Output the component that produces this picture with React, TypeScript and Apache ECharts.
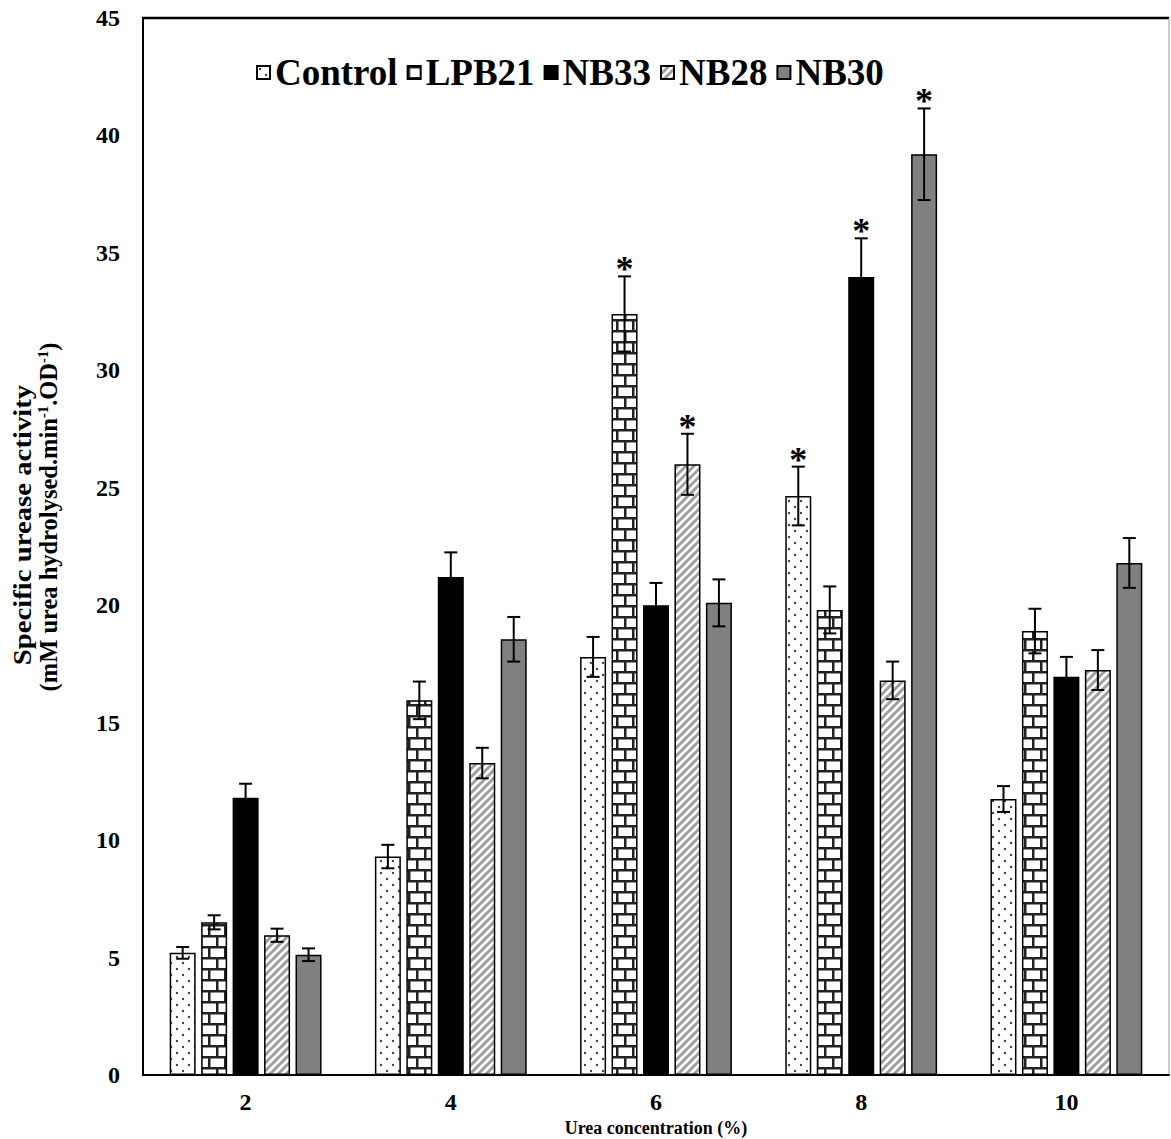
import React, { useEffect, useRef } from 'react';
import * as echarts from 'echarts';

const categories = ['2', '4', '6', '8', '10'];
const seriesNames = ['Control', 'LPB21', 'NB33', 'NB28', 'NB30'];

const controlValues = [5.2, 9.3, 17.8, 24.65, 11.75];
const controlErrors = [0.25, 0.5, 0.85, 1.25, 0.55];
const lpb21Values = [6.5, 15.95, 32.4, 19.8, 18.9];
const lpb21Errors = [0.3, 0.8, 1.6, 1.0, 0.95];
const nb33Values = [11.8, 21.2, 20.0, 33.97, 16.95];
const nb33Errors = [0.6, 1.05, 0.95, 1.65, 0.85];
const nb28Values = [5.95, 13.28, 26.0, 16.8, 17.24];
const nb28Errors = [0.28, 0.65, 1.3, 0.8, 0.85];
const nb30Values = [5.12, 18.55, 20.1, 39.2, 21.8];
const nb30Errors = [0.27, 0.95, 1.0, 1.95, 1.06];

// 1 = marked with an asterisk
const controlSig = [0, 0, 0, 1, 0];
const lpb21Sig = [0, 0, 1, 0, 0];
const nb33Sig = [0, 0, 0, 1, 0];
const nb28Sig = [0, 0, 1, 0, 0];
const nb30Sig = [0, 0, 0, 1, 0];

const yMin = 0;
const yMax = 45;
const yInterval = 5;

const xAxisTitle = 'Urea concentration (%)';
const yAxisTitle1 = 'Specific urease activity';

const allValues = [controlValues, lpb21Values, nb33Values, nb28Values, nb30Values];
const allErrors = [controlErrors, lpb21Errors, nb33Errors, nb28Errors, nb30Errors];
const allSig = [controlSig, lpb21Sig, nb33Sig, nb28Sig, nb30Sig];

const FONT = 'Liberation Serif';
const BAR_W = 26;
const BAR_GAP = 0.21;

function tile(w: number, h: number, draw: (ctx: CanvasRenderingContext2D) => void) {
  const c = document.createElement('canvas');
  c.width = w;
  c.height = h;
  const ctx = c.getContext('2d')!;
  draw(ctx);
  return { image: c.toDataURL('image/png'), imageWidth: w, imageHeight: h, repeat: 'repeat' } as any;
}

export default function App() {
  const ref = useRef<HTMLDivElement>(null);
  useEffect(() => {
    document.body.style.margin = '0';
    const chart = echarts.init(ref.current!, null, { renderer: 'svg' });

    const dots = tile(12, 12, (ctx) => {
      ctx.fillStyle = '#fff';
      ctx.fillRect(0, 0, 12, 12);
      ctx.fillStyle = '#444';
      ctx.beginPath(); ctx.arc(3, 3, 1.2, 0, Math.PI * 2); ctx.fill();
      ctx.beginPath(); ctx.arc(9, 9, 1.2, 0, Math.PI * 2); ctx.fill();
    });
    const bricks = tile(16, 22, (ctx) => {
      ctx.fillStyle = '#fff';
      ctx.fillRect(0, 0, 16, 22);
      ctx.fillStyle = '#222';
      ctx.fillRect(0, 0, 16, 2.5);
      ctx.fillRect(0, 11, 16, 2.5);
      ctx.fillRect(0, 0, 2.5, 11);
      ctx.fillRect(8, 11, 2.5, 11);
    });
    const stripes = tile(8, 8, (ctx) => {
      ctx.fillStyle = '#fff';
      ctx.fillRect(0, 0, 8, 8);
      ctx.strokeStyle = '#a0a0a0';
      ctx.lineWidth = 3;
      ctx.beginPath();
      ctx.moveTo(-1, 9); ctx.lineTo(9, -1);
      ctx.moveTo(-3, 3); ctx.lineTo(3, -3);
      ctx.moveTo(5, 11); ctx.lineTo(11, 5);
      ctx.stroke();
    });
    const fills: any[] = [dots, bricks, '#000000', stripes, '#808080'];

    const barSeries = seriesNames.map((name, s) => ({
      name,
      type: 'bar',
      data: allValues[s],
      barWidth: BAR_W,
      barGap: `${BAR_GAP * 100}%`,
      itemStyle: { color: fills[s], borderColor: '#000', borderWidth: 1.5 },
      z: 2,
    }));

    const errData: number[][] = [];
    allValues.forEach((vals, s) =>
      vals.forEach((v, c) => errData.push([c, v, allErrors[s][c], s, allSig[s][c]]))
    );
    const nSeries = seriesNames.length;

    const errSeries = {
      type: 'custom',
      name: 'errors',
      silent: true,
      z: 10,
      encode: { x: 0, y: 1 },
      data: errData,
      renderItem: (params: any, api: any) => {
        const c = api.value(0);
        const v = api.value(1);
        const e = api.value(2);
        const s = api.value(3);
        const sig = api.value(4);
        const center = api.coord([c, v]);
        const x = center[0] + (s - (nSeries - 1) / 2) * BAR_W * (1 + BAR_GAP);
        const yTop = api.coord([c, v + e])[1];
        const yBot = api.coord([c, v - e])[1];
        const cap = 6.5;
        const st = { stroke: '#000', lineWidth: 2 };
        const children: any[] = [
          { type: 'line', shape: { x1: x, y1: yTop, x2: x, y2: yBot }, style: st },
          { type: 'line', shape: { x1: x - cap, y1: yTop, x2: x + cap, y2: yTop }, style: st },
          { type: 'line', shape: { x1: x - cap, y1: yBot, x2: x + cap, y2: yBot }, style: st },
        ];
        if (sig) {
          children.push({
            type: 'text',
            style: {
              text: '*',
              x,
              y: yTop + 11,
              textAlign: 'center',
              textVerticalAlign: 'bottom',
              fontSize: 36,
              fontWeight: 'bold',
              fontFamily: FONT,
              fill: '#000',
            },
          });
        }
        return { type: 'group', children };
      },
    };

    const option: any = {
      animation: false,
      backgroundColor: '#fff',
      textStyle: { fontFamily: FONT },
      grid: { left: 143, right: 2, top: 18, bottom: 64, containLabel: false, outerBoundsMode: 'none' },
      legend: {
        data: seriesNames,
        left: 251,
        top: 49,
        icon: 'rect',
        itemWidth: 13,
        itemHeight: 13,
        itemGap: 9,
        textStyle: { fontFamily: FONT, fontWeight: 'bold', fontSize: 37, color: '#000' },
      },
      xAxis: {
        type: 'category',
        data: categories,
        name: xAxisTitle,
        nameLocation: 'middle',
        nameGap: 37,
        nameTextStyle: { fontFamily: FONT, fontWeight: 'bold', fontSize: 18, color: '#000' },
        axisLine: { show: true, lineStyle: { color: '#000', width: 2 } },
        axisTick: { show: false },
        axisLabel: { fontFamily: FONT, fontWeight: 'bold', fontSize: 24, color: '#000', margin: 15 },
      },
      yAxis: {
        type: 'value',
        min: yMin,
        max: yMax,
        interval: yInterval,
        axisLine: { show: true, lineStyle: { color: '#000', width: 2 } },
        axisTick: { show: false },
        splitLine: { show: false },
        axisLabel: { fontFamily: FONT, fontWeight: 'bold', fontSize: 24, color: '#000', margin: 23 },
      },
      graphic: [
        { type: 'line', shape: { x1: 142, y1: 18, x2: 1169, y2: 18 }, style: { stroke: '#000', lineWidth: 2.5 } },
        { type: 'line', shape: { x1: 1169, y1: 18, x2: 1169, y2: 1075 }, style: { stroke: '#999', lineWidth: 1 } },
        {
          type: 'text',
          x: 23,
          y: 525,
          rotation: Math.PI / 2,
          scaleX: 1.15,
          style: {
            text: yAxisTitle1,
            textAlign: 'center',
            textVerticalAlign: 'middle',
            fontFamily: FONT,
            fontWeight: 'bold',
            fontSize: 25,
            fill: '#000',
          },
        },
        {
          type: 'text',
          x: 48,
          y: 517,
          rotation: Math.PI / 2,
          scaleX: 0.98,
          style: {
            text: '(mM urea hydrolysed.min{sup|-1}.OD{sup|-1})',
            textAlign: 'center',
            textVerticalAlign: 'middle',
            fontFamily: FONT,
            fontWeight: 'bold',
            fontSize: 25,
            fill: '#000',
            rich: {
              sup: { fontFamily: FONT, fontWeight: 'bold', fontSize: 15, verticalAlign: 'top', lineHeight: 25 },
            },
          },
        },
      ],
      series: [...barSeries, errSeries],
    };
    chart.setOption(option);
    return () => chart.dispose();
  }, []);
  return <div ref={ref} style={{ width: 1171, height: 1139 }} />;
}
